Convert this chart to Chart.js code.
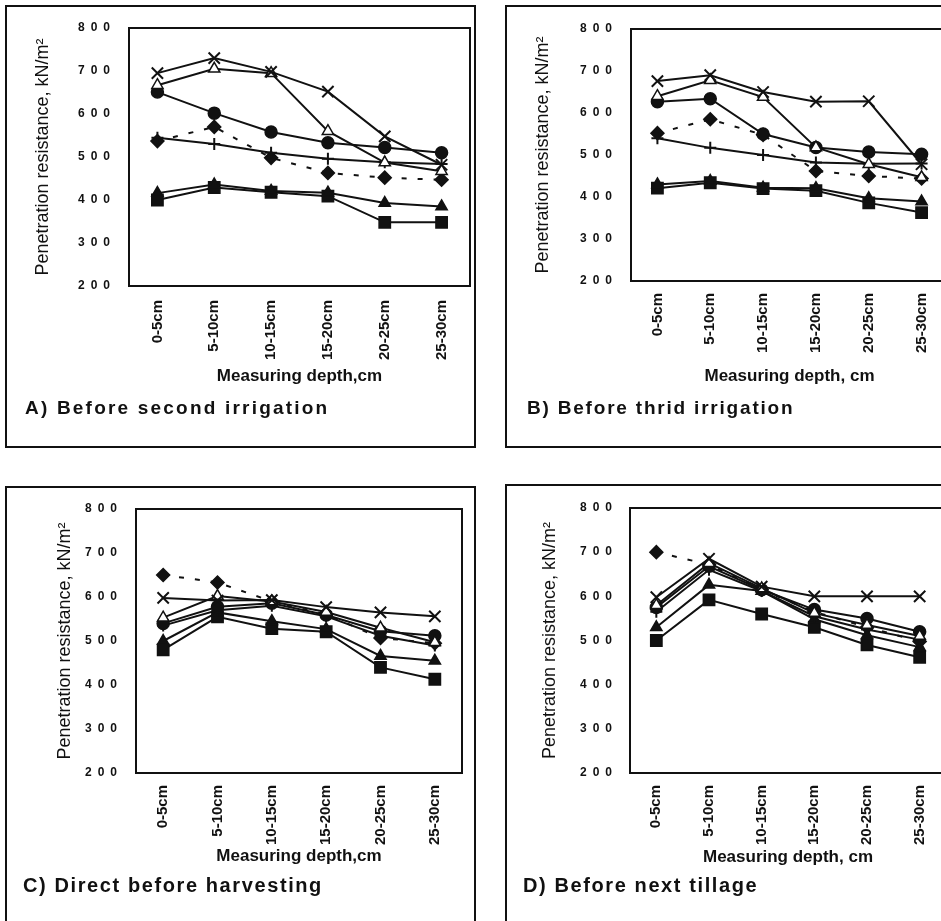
<!DOCTYPE html>
<html>
<head>
<meta charset="utf-8">
<script src="https://cdn.jsdelivr.net/npm/chart.js@4.4.0/dist/chart.umd.min.js"></script>
<style>
  html, body { margin: 0; padding: 0; background: #fff; overflow: hidden; }
  #page { position: relative; width: 941px; height: 921px; overflow: hidden; font-family: "Liberation Sans", Arial, sans-serif; color: #111; }
  .frame { position: absolute; border: 2px solid #111; box-sizing: border-box; }
  .caption { position: absolute; font-weight: bold; font-size: 19px; line-height: 22px; letter-spacing: 2.2px; white-space: nowrap; }
  .caption.low { font-size: 20px; letter-spacing: 1.6px; }
  canvas { position: absolute; }
</style>
</head>
<body>
<div id="page">
  <div class="frame" style="left:5px;top:5px;width:471px;height:443px"></div>
  <div class="frame" style="left:505px;top:5px;width:460px;height:443px"></div>
  <div class="frame" style="left:5px;top:486px;width:471px;height:460px"></div>
  <div class="frame" style="left:505px;top:484px;width:460px;height:460px"></div>

  <canvas id="chartA" width="480" height="460" style="left:0;top:0"></canvas>
  <canvas id="chartB" width="480" height="460" style="left:480px;top:0"></canvas>
  <canvas id="chartC" width="480" height="451" style="left:0;top:470px"></canvas>
  <canvas id="chartD" width="480" height="451" style="left:480px;top:470px"></canvas>

  <div class="caption" style="left:25px;top:397px">A) Before second irrigation</div>
  <div class="caption" style="left:527px;top:397px;letter-spacing:1.8px">B) Before thrid irrigation</div>
  <div class="caption low" style="left:23px;top:874px">C) Direct before harvesting</div>
  <div class="caption low" style="left:523px;top:874px">D) Before next tillage</div>
</div>

<script>
// measuring depth categories and y tick values
var depths = ['0-5cm', '5-10cm', '10-15cm', '15-20cm', '20-25cm', '25-30cm'];
var yTickValues = [200, 300, 400, 500, 600, 700, 800];

// A) Before second irrigation
var aCross    = [695, 730, 698, 652, 548, 482];
var aOpenTri  = [667, 705, 695, 560, 487, 467];
var aCircle   = [651, 602, 558, 533, 522, 510];
var aPlus     = [545, 530, 510, 496, 488, 484];
var aDiamond  = [537, 570, 498, 463, 452, 447];
var aTriangle = [416, 436, 421, 417, 393, 385];
var aSquare   = [400, 429, 418, 409, 348, 348];

// B) Before thrid irrigation
var bCross    = [676, 690, 650, 627, 628, 478];
var bOpenTri  = [640, 678, 638, 518, 478, 447];
var bCircle   = [627, 634, 550, 518, 507, 502];
var bPlus     = [540, 517, 500, 482, 479, 480];
var bDiamond  = [552, 585, 548, 462, 450, 444];
var bTriangle = [430, 438, 422, 421, 397, 389];
var bSquare   = [421, 434, 420, 415, 386, 363];

// C) Direct before harvesting
var cCross    = [598, 592, 593, 577, 565, 556];
var cOpenTri  = [553, 602, 590, 566, 530, 497];
var cCircle   = [540, 578, 586, 559, 522, 512];
var cPlus     = [535, 570, 580, 556, 512, 490];
var cDiamond  = [650, 633, 590, 560, 507, 495];
var cTriangle = [500, 565, 545, 527, 466, 455];
var cSquare   = [480, 555, 528, 521, 440, 413];

// D) Before next tillage
var dCross    = [598, 685, 622, 600, 600, 600];
var dOpenTri  = [580, 675, 618, 562, 535, 510];
var dCircle   = [575, 668, 615, 570, 550, 520];
var dPlus     = [565, 660, 612, 555, 525, 502];
var dDiamond  = [700, 672, 615, 565, 530, 498];
var dTriangle = [530, 626, 612, 548, 512, 485];
var dSquare   = [500, 592, 560, 530, 490, 462];

var INK = '#111';

// box round the plot area
var plotBox = {
  id: 'plotBox',
  beforeDatasetsDraw: function (chart) {
    var a = chart.chartArea, ctx = chart.ctx;
    ctx.save();
    ctx.strokeStyle = INK;
    ctx.lineWidth = 2;
    ctx.strokeRect(a.left, a.top, a.right - a.left, a.bottom - a.top);
    ctx.restore();
  }
};

function series(data, style, radius, fill, dash) {
  return {
    data: data,
    borderColor: INK,
    borderWidth: 2,
    borderDash: dash || [],
    pointStyle: style,
    pointRadius: radius,
    pointBorderWidth: style === 'crossRot' || style === 'cross' ? 2 : 1.5,
    pointBorderColor: INK,
    pointBackgroundColor: fill || INK,
    tension: 0,
    fill: false
  };
}

function makePanel(id, set, lay) {
  var ctx = document.getElementById(id).getContext('2d');
  return new Chart(ctx, {
    type: 'line',
    data: {
      labels: depths,
      datasets: [
        series(set[0], 'crossRot', 8),
        series(set[1], 'triangle', 6.5, '#fff'),
        series(set[2], 'circle', 6),
        series(set[3], 'cross', 6),
        series(set[4], 'rectRot', 6.5, INK, [5, 11]),
        series(set[5], 'triangle', 6.5),
        series(set[6], 'rect', 8)
      ]
    },
    options: {
      responsive: false,
      animation: false,
      devicePixelRatio: 1,
      layout: { padding: { left: 0, top: lay.top, right: lay.right, bottom: 0 } },
      plugins: { legend: { display: false }, tooltip: { enabled: false } },
      scales: {
        x: {
          type: 'category',
          offset: true,
          grid: { display: false, drawTicks: false },
          border: { display: false },
          ticks: {
            autoSkip: false, minRotation: 90, maxRotation: 90,
            padding: lay.xPad, color: INK,
            font: { family: 'Liberation Sans', weight: 'bold', size: 15 }
          },
          title: {
            display: true, text: lay.xTitle, color: INK,
            font: { family: 'Liberation Sans', weight: 'bold', size: 17 },
            padding: { top: 0, bottom: lay.xTitleBottom }
          },
          afterFit: function (s) { s.height = lay.xHeight; }
        },
        y: {
          min: 200, max: 800,
          grid: { display: false, drawTicks: false },
          border: { display: false },
          afterBuildTicks: function (s) { s.ticks = yTickValues.map(function (v) { return { value: v }; }); },
          ticks: {
            padding: lay.yPad, color: INK,
            font: { family: 'Liberation Sans', weight: 'bold', size: 12 },
            callback: function (v) { return String(v).split('').join('\u2002'); }
          },
          title: {
            display: true, text: 'Penetration resistance, kN/m\u00b2', color: INK,
            font: { family: 'Liberation Sans', size: 18 },
            padding: { top: lay.yTitleTop, bottom: 0 }
          },
          afterFit: function (s) { s.width = lay.yWidth; }
        }
      }
    },
    plugins: [plotBox]
  });
}

makePanel('chartA', [aCross, aOpenTri, aCircle, aPlus, aDiamond, aTriangle, aSquare], {
  top: 28, right: 9, yWidth: 129, xHeight: 174, xPad: 14, yPad: 19,
  xTitle: 'Measuring depth,cm', xTitleBottom: 73, yTitleTop: 32
});
makePanel('chartB', [bCross, bOpenTri, bCircle, bPlus, bDiamond, bTriangle, bSquare], {
  top: 29, right: 12, yWidth: 151, xHeight: 179, xPad: 12, yPad: 19,
  xTitle: 'Measuring depth, cm', xTitleBottom: 73, yTitleTop: 52
});
makePanel('chartC', [cCross, cOpenTri, cCircle, cPlus, cDiamond, cTriangle, cSquare], {
  top: 39, right: 18, yWidth: 136, xHeight: 148, xPad: 12, yPad: 19,
  xTitle: 'Measuring depth,cm', xTitleBottom: 54, yTitleTop: 54
});
makePanel('chartD', [dCross, dOpenTri, dCircle, dPlus, dDiamond, dTriangle, dSquare], {
  top: 38, right: 14, yWidth: 150, xHeight: 148, xPad: 12, yPad: 18,
  xTitle: 'Measuring depth, cm', xTitleBottom: 53, yTitleTop: 59
});
</script>
</body>
</html>
